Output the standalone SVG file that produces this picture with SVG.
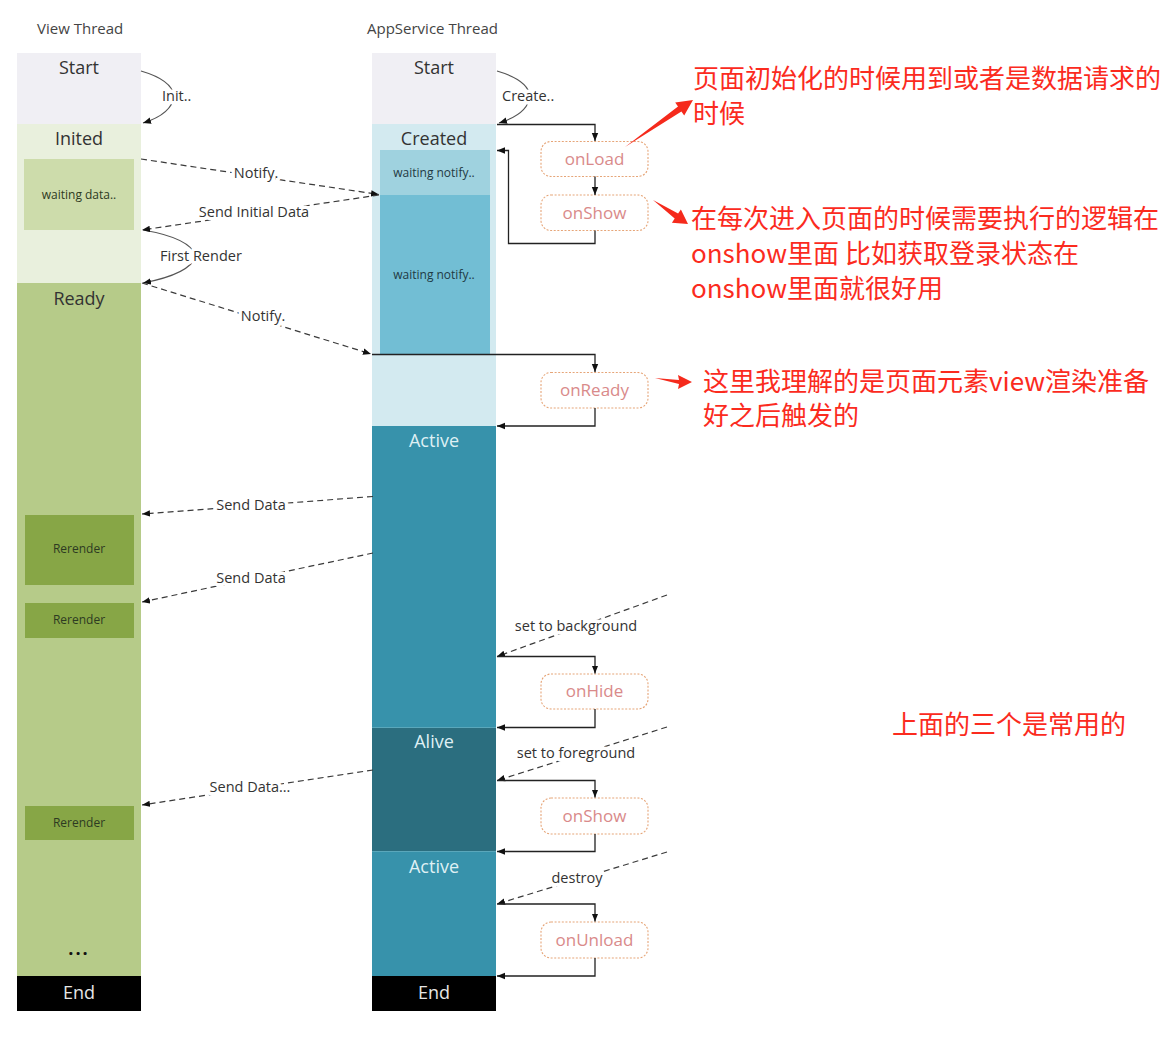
<svg xmlns="http://www.w3.org/2000/svg" width="1169" height="1051" viewBox="0 0 1169 1051">
<defs>
<marker id="ah" viewBox="0 0 10 10" refX="10" refY="5" markerWidth="8" markerHeight="8" markerUnits="userSpaceOnUse" orient="auto"><path d="M0,1 L10,5 L0,9 z" fill="#111"/></marker>
<style>
.t{font-family:"Open Sans","Liberation Sans",sans-serif;}
.title{font-size:15px;fill:#444;}
.st{font-size:18px;fill:#333;text-anchor:middle;}
.stw{font-size:18px;fill:#dff0f4;text-anchor:middle;}
.endt{font-size:18px;fill:#e6e6e6;text-anchor:middle;}
.small{font-size:12px;fill:#2d3a22;text-anchor:middle;}
.smallb{font-size:12px;fill:#1f3a44;text-anchor:middle;}
.ev{fill:#fff;stroke:#e6a578;stroke-width:1.1;stroke-dasharray:2 1.6;}
.evt{font-size:17px;fill:#d98a8a;text-anchor:middle;}
.dash{fill:none;stroke:#3a3a3a;stroke-width:1.2;stroke-dasharray:6 4;}
.solid{fill:none;stroke:#222;stroke-width:1.3;}
.curve{fill:none;stroke:#555;stroke-width:1.2;}
.lbl{font-size:14.5px;fill:#333;stroke:#fff;stroke-width:7;paint-order:stroke;stroke-linejoin:round;}
.red{font-family:"Noto Sans CJK SC","Noto Sans",sans-serif;font-size:26px;fill:#fb2b1e;}
.redar{fill:#f52a1c;}
</style>
</defs>
<rect width="1169" height="1051" fill="#fff"/>

<text class="t title" x="37" y="34">View Thread</text>
<text class="t title" x="367" y="34">AppService Thread</text>

<!-- View thread column -->
<g id="v-start"><rect x="17" y="53" width="124" height="71" fill="#f0eff4"/><text class="t st" x="79" y="74">Start</text></g>
<g id="v-inited"><rect x="17" y="124" width="124" height="159" fill="#e9f0dd"/><text class="t st" x="79" y="145">Inited</text></g>
<g id="v-waiting"><rect x="24" y="159" width="110" height="71" fill="#cddcab"/><text class="t small" x="79" y="199">waiting data..</text></g>
<g id="v-ready"><rect x="17" y="283" width="124" height="693" fill="#b6cb89"/><text class="t st" x="79" y="305">Ready</text></g>
<g id="v-rerender1"><rect x="25" y="515" width="109" height="70" fill="#87a646"/><text class="t small" x="79" y="553">Rerender</text></g>
<g id="v-rerender2"><rect x="25" y="603" width="109" height="35" fill="#87a646"/><text class="t small" x="79" y="624">Rerender</text></g>
<g id="v-rerender3"><rect x="25" y="806" width="109" height="34" fill="#87a646"/><text class="t small" x="79" y="827">Rerender</text></g>
<g id="v-dots"><text class="t" x="79" y="955" font-size="18" font-weight="bold" fill="#111" text-anchor="middle" letter-spacing="2">...</text></g>
<g id="v-end"><rect x="17" y="976" width="124" height="35" fill="#000"/><text class="t endt" x="79" y="999">End</text></g>

<!-- AppService column -->
<g id="a-start"><rect x="372" y="53" width="124" height="71" fill="#f0eff4"/><text class="t st" x="434" y="74">Start</text></g>
<g id="a-created"><rect x="372" y="124" width="124" height="302" fill="#d3eaf0"/><text class="t st" x="434" y="145">Created</text></g>
<g id="a-wait1"><rect x="380" y="150" width="110" height="45" fill="#9fd2df"/><text class="t smallb" x="434" y="177">waiting notify..</text></g>
<g id="a-wait2"><rect x="380" y="195" width="110" height="159" fill="#72bed4"/><text class="t smallb" x="434" y="279">waiting notify..</text></g>
<g id="a-active1"><rect x="372" y="426" width="124" height="301" fill="#3792ab"/><text class="t stw" x="434" y="447">Active</text></g>
<g id="a-alive"><rect x="372" y="727" width="124" height="124" fill="#2b6e7f"/><line x1="372" y1="727.5" x2="496" y2="727.5" stroke="#5aa7bb" stroke-width="1"/><text class="t stw" x="434" y="748">Alive</text></g>
<g id="a-active2"><rect x="372" y="851" width="124" height="125" fill="#3792ab"/><line x1="372" y1="851.5" x2="496" y2="851.5" stroke="#5aa7bb" stroke-width="1"/><text class="t stw" x="434" y="873">Active</text></g>
<g id="a-end"><rect x="372" y="976" width="124" height="35" fill="#000"/><text class="t endt" x="434" y="999">End</text></g>

<!-- Event boxes -->
<g id="e-onload"><rect class="ev" x="541" y="141.5" width="107" height="35" rx="10"/><text class="t evt" x="594.5" y="165">onLoad</text></g>
<g id="e-onshow1"><rect class="ev" x="541" y="195" width="107" height="35.5" rx="10"/><text class="t evt" x="594.5" y="219">onShow</text></g>
<g id="e-onready"><rect class="ev" x="541" y="372.5" width="107" height="35.5" rx="10"/><text class="t evt" x="594.5" y="396">onReady</text></g>
<g id="e-onhide"><rect class="ev" x="541" y="674" width="107" height="35" rx="10"/><text class="t evt" x="594.5" y="697">onHide</text></g>
<g id="e-onshow2"><rect class="ev" x="541" y="798" width="107" height="36" rx="10"/><text class="t evt" x="594.5" y="822">onShow</text></g>
<g id="e-onunload"><rect class="ev" x="541" y="922" width="107" height="36" rx="10"/><text class="t evt" x="594.5" y="946">onUnload</text></g>

<!-- Connectors -->
<g id="connectors">
<path class="curve" d="M141,71 Q172,80 174,96 Q172,114 143,123" marker-end="url(#ah)"/>
<text class="t lbl" x="162" y="101">Init..</text>
<path class="curve" d="M497,71 Q528,80 530,96 Q528,114 499,123" marker-end="url(#ah)"/>
<text class="t lbl" x="502" y="101">Create..</text>
<path class="curve" d="M143,230 Q190,238 196,256 Q190,274 143,283" marker-end="url(#ah)"/>
<text class="t lbl" x="160" y="261">First Render</text>

<line class="dash" x1="141" y1="159" x2="379" y2="194.5" marker-end="url(#ah)"/>
<text class="t lbl" x="256" y="178" text-anchor="middle">Notify.</text>
<line class="dash" x1="379" y1="195" x2="142" y2="230" marker-end="url(#ah)"/>
<text class="t lbl" x="254" y="217" text-anchor="middle">Send Initial Data</text>
<line class="dash" x1="142" y1="283" x2="371" y2="354" marker-end="url(#ah)"/>
<text class="t lbl" x="263" y="321" text-anchor="middle">Notify.</text>
<line class="dash" x1="373" y1="496.5" x2="142" y2="514" marker-end="url(#ah)"/>
<text class="t lbl" x="251" y="510" text-anchor="middle">Send Data</text>
<line class="dash" x1="373" y1="553" x2="142" y2="602" marker-end="url(#ah)"/>
<text class="t lbl" x="251" y="583" text-anchor="middle">Send Data</text>
<line class="dash" x1="373" y1="770" x2="142" y2="805" marker-end="url(#ah)"/>
<text class="t lbl" x="250" y="792" text-anchor="middle">Send Data...</text>

<polyline class="solid" points="497,124.5 595,124.5 595,141" marker-end="url(#ah)"/>
<line class="solid" x1="595" y1="176.5" x2="595" y2="195" marker-end="url(#ah)"/>
<polyline class="solid" points="595,230.5 595,243.5 508.5,243.5 508.5,150.5 497,150.5" marker-end="url(#ah)"/>
<polyline class="solid" points="372,354.5 595,354.5 595,372" marker-end="url(#ah)"/>
<polyline class="solid" points="595,408 595,426 497,426" marker-end="url(#ah)"/>

<line class="dash" x1="667" y1="595" x2="497" y2="656.5" marker-end="url(#ah)"/>
<text class="t lbl" x="576" y="631" text-anchor="middle">set to background</text>
<polyline class="solid" points="497,656.5 595,656.5 595,673.5" marker-end="url(#ah)"/>
<polyline class="solid" points="595,709 595,727.5 497,727.5" marker-end="url(#ah)"/>

<line class="dash" x1="667" y1="727" x2="497" y2="780.5" marker-end="url(#ah)"/>
<text class="t lbl" x="576" y="758" text-anchor="middle">set to foreground</text>
<polyline class="solid" points="497,780.5 595,780.5 595,797.5" marker-end="url(#ah)"/>
<polyline class="solid" points="595,834 595,851.5 497,851.5" marker-end="url(#ah)"/>

<line class="dash" x1="667" y1="852" x2="497" y2="904" marker-end="url(#ah)"/>
<text class="t lbl" x="577" y="883" text-anchor="middle">destroy</text>
<polyline class="solid" points="497,904 595,904 595,921.5" marker-end="url(#ah)"/>
<polyline class="solid" points="595,958 595,976 497,976" marker-end="url(#ah)"/>
</g>

<!-- Annotations -->
<g id="note-onload">
<polygon class="redar" points="625,147 681.4,111.5 684.2,115.6 693,100 675.2,102.4 678,106.5"/>
<text class="red" x="693" y="88">页面初始化的时候用到或者是数据请求的</text>
<text class="red" x="693" y="123">时候</text>
</g>
<g id="note-onshow">
<polygon class="redar" points="653,200 678.1,213.6 680.9,209.5 688,224 671.9,222.7 674.7,218.6"/>
<text class="red" x="691" y="228">在每次进入页面的时候需要执行的逻辑在</text>
<text class="red" x="691" y="263">onshow里面 比如获取登录状态在</text>
<text class="red" x="691" y="298">onshow里面就很好用</text>
</g>
<g id="note-onready">
<polygon class="redar" points="655,378 679,380 678,375 692,382 678,389 679,384"/>
<text class="red" x="703" y="391">这里我理解的是页面元素view渲染准备</text>
<text class="red" x="703" y="425">好之后触发的</text>
</g>
<g id="note-common">
<text class="red" x="892" y="734">上面的三个是常用的</text>
</g>
</svg>
